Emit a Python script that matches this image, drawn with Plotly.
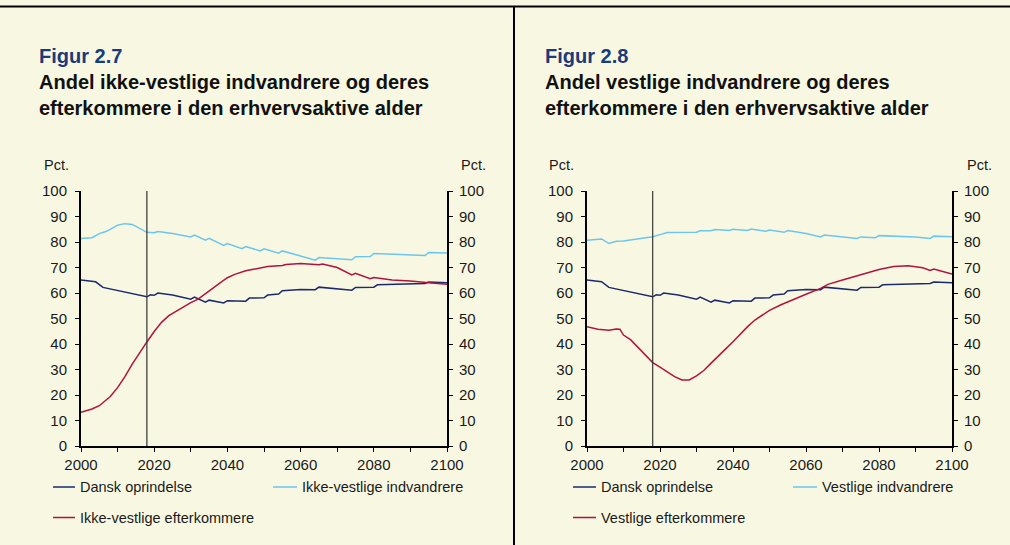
import plotly.graph_objects as go

# ---------------- data ----------------
dansk_years = [2000, 2004, 2006, 2010, 2014, 2018, 2019, 2020, 2021, 2025, 2030, 2031, 2034, 2035,
               2039, 2040, 2045, 2046, 2050, 2051, 2054, 2055, 2060, 2064, 2065, 2070, 2074, 2075,
               2080, 2081, 2090, 2094, 2095, 2100]
dansk_vals = [65.1, 64.4, 62.2, 60.9, 59.6, 58.5, 59.3, 59.1, 60.0, 59.2, 57.6, 58.4, 56.4, 57.2,
              56.1, 57.0, 56.8, 58.0, 58.1, 59.2, 59.6, 60.9, 61.4, 61.3, 62.3, 61.7, 61.1, 62.2,
              62.3, 63.2, 63.5, 63.7, 64.3, 64.0]

ikv_indv_years = [2000, 2003, 2005, 2007, 2010, 2012, 2014, 2016, 2018, 2020, 2021, 2025, 2030, 2031,
                  2034, 2035, 2039, 2040, 2044, 2045, 2049, 2050, 2054, 2055, 2060, 2064, 2065,
                  2070, 2074, 2075, 2079, 2080, 2090, 2094, 2095, 2100]
ikv_indv_vals = [81.4, 81.7, 83.3, 84.2, 86.6, 87.2, 86.9, 85.4, 83.8, 83.6, 84.1, 83.3, 82.0, 82.7,
                 80.7, 81.4, 78.7, 79.4, 77.4, 78.2, 76.5, 77.3, 75.6, 76.5, 74.4, 72.9, 73.9,
                 73.3, 73.0, 74.2, 74.3, 75.5, 75.1, 74.7, 75.9, 75.7]

ikv_efter_years = [2000, 2003, 2005, 2008, 2010, 2012, 2014, 2016, 2018, 2020, 2022, 2024, 2026, 2028,
                   2030, 2032, 2034, 2036, 2038, 2040, 2042, 2045, 2048, 2050, 2051, 2055, 2056,
                   2060, 2063, 2065, 2066, 2070, 2074, 2075, 2079, 2080, 2085, 2090, 2095, 2100]
ikv_efter_vals = [13.2, 14.5, 15.8, 19.4, 22.9, 27.2, 32.1, 36.6, 40.8, 44.9, 48.5, 51.1, 52.9, 54.6,
                  56.2, 57.6, 59.8, 61.9, 64.0, 66.0, 67.3, 68.7, 69.6, 70.0, 70.4, 70.8, 71.2,
                  71.6, 71.3, 71.1, 71.4, 70.0, 67.1, 67.7, 65.6, 66.1, 65.1, 64.7, 64.0, 63.4]

v_indv_years = [2000, 2003, 2004, 2006, 2008, 2010, 2014, 2018, 2020, 2022, 2030, 2031, 2034, 2035,
                2039, 2040, 2044, 2045, 2049, 2050, 2054, 2055, 2060, 2064, 2065, 2070, 2074, 2075,
                2079, 2080, 2090, 2094, 2095, 2100]
v_indv_vals = [80.7, 81.2, 81.2, 79.4, 80.3, 80.4, 81.1, 82.1, 82.9, 83.7, 83.8, 84.4, 84.4, 84.9,
               84.5, 85.0, 84.5, 85.1, 84.2, 84.7, 83.8, 84.5, 83.3, 82.0, 82.7, 82.0, 81.4, 82.0,
               81.7, 82.5, 82.0, 81.4, 82.3, 82.1]

v_efter_years = [2000, 2003, 2006, 2008, 2009, 2010, 2012, 2014, 2016, 2018, 2020, 2022, 2024, 2026,
                 2028, 2030, 2032, 2034, 2036, 2038, 2040, 2042, 2044, 2046, 2048, 2050, 2053, 2056,
                 2060, 2064, 2066, 2070, 2075, 2080, 2084, 2088, 2092, 2094, 2095, 2100]
v_efter_vals = [46.8, 45.8, 45.4, 45.9, 45.8, 43.5, 41.6, 38.7, 35.7, 32.7, 30.9, 29.2, 27.2, 25.9,
                25.9, 27.5, 29.6, 32.5, 35.5, 38.1, 40.9, 43.9, 46.8, 49.4, 51.4, 53.2, 55.3, 57.2,
                59.5, 61.8, 63.4, 65.1, 67.0, 69.2, 70.4, 70.7, 69.9, 68.8, 69.4, 67.4]

forecast_start = 2018
x_ticks = list(range(2000, 2101, 10))
x_ticktext = [str(v) if (v - 2000) % 20 == 0 else "" for v in x_ticks]
y_ticks = list(range(0, 101, 10))

panel_titles = [("Figur 2.7", "Andel ikke-vestlige indvandrere og deres", "efterkommere i den erhvervsaktive alder"),
                ("Figur 2.8", "Andel vestlige indvandrere og deres", "efterkommere i den erhvervsaktive alder")]
legend_names = [["Dansk oprindelse", "Ikke-vestlige indvandrere", "Ikke-vestlige efterkommere"],
                ["Dansk oprindelse", "Vestlige indvandrere", "Vestlige efterkommere"]]

# ---------------- style ----------------
W, H = 1010, 545
BG = "#F8F8E2"
NAVY = "#1A2A6C"
LBLUE = "#6CC5EC"
RED = "#B2123E"
FONT = "Liberation Sans, Arial, sans-serif"
colors = [NAVY, LBLUE, RED]

def px_x(p):
    return p / W

def px_y(p):
    return 1 - p / H

fig = go.Figure()

panels = [
    dict(xa="x", ya="y", ya2="y2",
         series=[(dansk_years, dansk_vals), (ikv_indv_years, ikv_indv_vals), (ikv_efter_years, ikv_efter_vals)]),
    dict(xa="x2", ya="y3", ya2="y4",
         series=[(dansk_years, dansk_vals), (v_indv_years, v_indv_vals), (v_efter_years, v_efter_vals)]),
]
ytop, ybot = 191, 446

for pi, p in enumerate(panels):
    for si, (xs, ys) in enumerate(p["series"]):
        fig.add_trace(go.Scatter(x=xs, y=ys, mode="lines", xaxis=p["xa"], yaxis=p["ya"],
                                 line=dict(color=colors[si], width=1.5), name=legend_names[pi][si],
                                 showlegend=False, hoverinfo="skip"))
    fig.add_trace(go.Scatter(x=[None], y=[None], xaxis=p["xa"], yaxis=p["ya2"], showlegend=False))
    fig.add_shape(type="line", xref=p["xa"], yref=p["ya"], x0=forecast_start, x1=forecast_start,
                  y0=0, y1=100, line=dict(color="#333333", width=1.2))

axis_common = dict(showgrid=False, zeroline=False, showline=True, linecolor="black", linewidth=2,
                   ticks="outside", ticklen=4, tickwidth=1, tickcolor="black", automargin=False,
                   tickfont=dict(family=FONT, size=15, color="#1a1a1a"))

ydom = [px_y(ybot), px_y(ytop)]
layout = dict(
    width=W, height=H, margin=dict(l=0, r=0, t=0, b=0, autoexpand=False),
    paper_bgcolor=BG, plot_bgcolor=BG, showlegend=False,
    xaxis=dict(domain=[px_x(81), px_x(447)], range=[2000, 2100], anchor="y",
               tickmode="array", tickvals=x_ticks, ticktext=x_ticktext, **axis_common),
    yaxis=dict(domain=ydom, range=[0, 100], anchor="x", tickmode="array", tickvals=y_ticks,
               ticklabelstandoff=5, **axis_common),
    yaxis2=dict(range=[0, 100], overlaying="y", side="right", anchor="x", tickmode="array",
                tickvals=y_ticks, ticklabelstandoff=3, **axis_common),
    xaxis2=dict(domain=[px_x(587), px_x(952)], range=[2000, 2100], anchor="y3",
                tickmode="array", tickvals=x_ticks, ticktext=x_ticktext, **axis_common),
    yaxis3=dict(domain=ydom, range=[0, 100], anchor="x2", tickmode="array", tickvals=y_ticks,
                ticklabelstandoff=5, **axis_common),
    yaxis4=dict(range=[0, 100], overlaying="y3", side="right", anchor="x2", tickmode="array",
                tickvals=y_ticks, ticklabelstandoff=3, **axis_common),
)
fig.update_layout(**layout)

# frame lines
fig.add_shape(type="line", xref="paper", yref="paper", x0=0, x1=1, y0=px_y(6.5), y1=px_y(6.5),
              line=dict(color="black", width=2))
fig.add_shape(type="line", xref="paper", yref="paper", x0=px_x(514), x1=px_x(514), y0=px_y(6.5), y1=0,
              line=dict(color="black", width=2))

annots = []
title_x = [37, 543]
pct_pos = [(42, 459), (547, 965)]
leg_pos = [[(53, 75, 487), (273, 297, 487), (53, 75, 517.5)],
           [(573, 596, 487), (793, 817, 487), (573, 596, 517.5)]]
for pi in range(2):
    fig_t, t1, t2 = panel_titles[pi]
    annots.append(dict(text=fig_t, x=px_x(title_x[pi]), y=px_y(55.5), xref="paper", yref="paper",
                       xanchor="left", yanchor="middle", showarrow=False,
                       font=dict(family=FONT, size=20, color="#1B3A7A", weight="bold")))
    for li, t in enumerate([t1, t2]):
        annots.append(dict(text=t, x=px_x(title_x[pi]), y=px_y(82.5 + 25.5 * li), xref="paper", yref="paper",
                           xanchor="left", yanchor="middle", showarrow=False,
                           font=dict(family=FONT, size=20, color="#111111", weight="bold")))
    for px in pct_pos[pi]:
        annots.append(dict(text="Pct.", x=px_x(px), y=px_y(165), xref="paper", yref="paper",
                           xanchor="left", yanchor="middle", showarrow=False,
                           font=dict(family=FONT, size=14.5, color="#1a1a1a")))
    for si, (lx0, lx1, ly) in enumerate(leg_pos[pi]):
        fig.add_shape(type="line", xref="paper", yref="paper", x0=px_x(lx0), x1=px_x(lx1),
                      y0=px_y(ly), y1=px_y(ly), line=dict(color=colors[si], width=1.5))
        annots.append(dict(text=legend_names[pi][si], x=px_x(lx1 + 2.5), y=px_y(ly), xref="paper",
                           yref="paper", xanchor="left", yanchor="middle", showarrow=False,
                           font=dict(family=FONT, size=14.5, color="#1a1a1a")))
fig.update_layout(annotations=annots)

fig.write_html("out.html", config={"displayModeBar": False},
               post_script="document.body.style.margin='0';document.body.style.overflow='hidden';")
